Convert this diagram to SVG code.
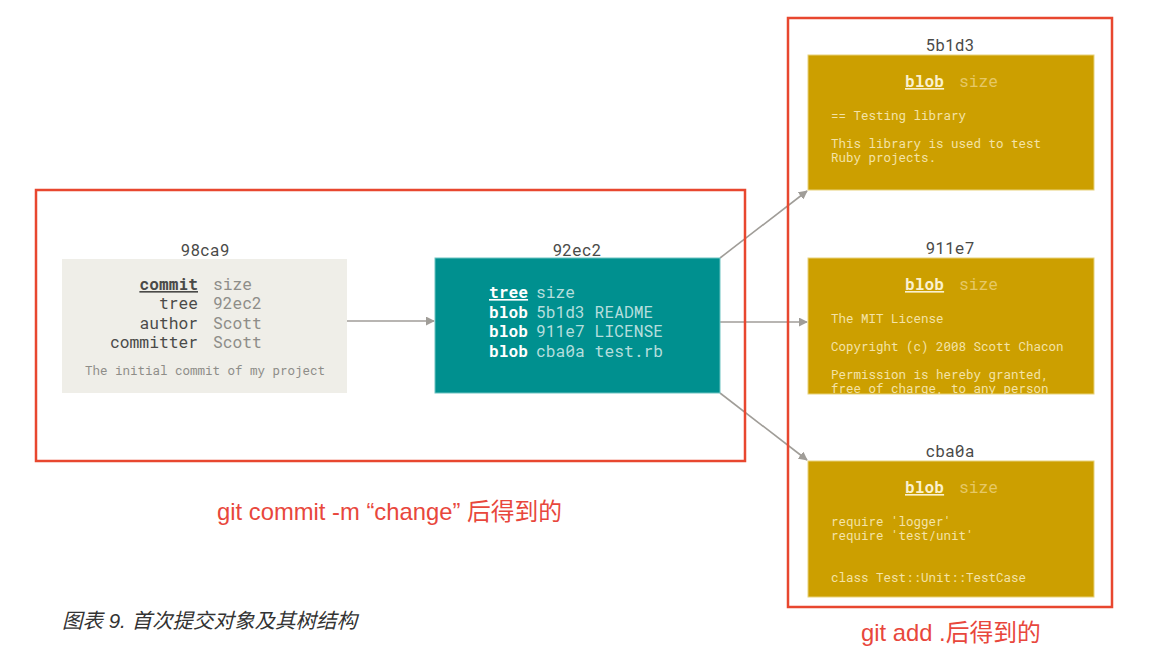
<svg xmlns="http://www.w3.org/2000/svg" width="1152" height="654" viewBox="0 0 1152 654">
<style>
.mono{font-family:"Roboto Mono","DejaVu Sans Mono","Liberation Mono",monospace}
.lbl{font-size:16.3px;fill:#4a4a48;text-anchor:middle}
.ck{font-size:16.3px;fill:#4a4a48;text-anchor:end}
.cv{font-size:16.3px;fill:#8e8d88}
.msg{font-size:12.5px;fill:#8e8d88}
.tk{font-size:16.3px;fill:#ffffff;font-weight:bold}
.tv{font-size:16.3px;fill:#b5dedd}
.bk{font-size:16.3px;fill:#fbf1cf;font-weight:bold;text-decoration:underline}
.bs{font-size:16.3px;fill:#e6c866}
.bt{font-size:12.5px;fill:#f4e3a8}
.red{fill:none;stroke:#e8472f;stroke-width:2.5}
.note{font-family:"Liberation Sans","Noto Sans CJK SC",sans-serif;font-size:23.8px;fill:#e8473c}
.edge{stroke:#a09d98;stroke-width:1.6;fill:none;marker-end:url(#ah)}
</style>
<defs>
<marker id="ah" viewBox="0 0 10 10" refX="9" refY="5" markerWidth="9" markerHeight="9" markerUnits="userSpaceOnUse" orient="auto">
<path d="M0,0 L10,5 L0,10 z" fill="#a09d98"/>
</marker>
<clipPath id="c1"><rect x="808" y="55" width="286" height="135"/></clipPath>
<clipPath id="c2"><rect x="808" y="258" width="286" height="136"/></clipPath>
<clipPath id="c3"><rect x="808" y="461" width="286" height="136"/></clipPath>
</defs>
<rect width="1152" height="654" fill="#ffffff"/>

<g id="connectors">
<line class="edge" x1="347" y1="321" x2="434" y2="321"/>
<line class="edge" x1="720" y1="258" x2="807" y2="191"/>
<line class="edge" x1="720" y1="322" x2="807" y2="322"/>
<line class="edge" x1="720" y1="393" x2="807" y2="460"/>
</g>

<g id="commit-98ca9" class="mono">
<text class="lbl" x="205" y="256">98ca9</text>
<rect x="62" y="259" width="285" height="134" fill="#efeee8"/>
<text class="ck" x="198" y="290" style="font-weight:bold;text-decoration:underline">commit</text>
<text class="cv" x="213" y="290">size</text>
<text class="ck" x="198" y="309">tree</text>
<text class="cv" x="213" y="309">92ec2</text>
<text class="ck" x="198" y="329">author</text>
<text class="cv" x="213" y="329">Scott</text>
<text class="ck" x="198" y="348">committer</text>
<text class="cv" x="213" y="348">Scott</text>
<text class="msg" x="205" y="375" text-anchor="middle">The initial commit of my project</text>
</g>

<g id="tree-92ec2" class="mono">
<text class="lbl" x="577" y="256">92ec2</text>
<rect x="435" y="258" width="285" height="135" fill="#00908f" stroke="#6cc3c1" stroke-width="1"/>
<text class="tk" x="489" y="298" style="text-decoration:underline">tree</text>
<text class="tv" x="536" y="298">size</text>
<text class="tk" x="489" y="318">blob</text>
<text class="tv" x="536" y="318">5b1d3 README</text>
<text class="tk" x="489" y="337">blob</text>
<text class="tv" x="536" y="337">911e7 LICENSE</text>
<text class="tk" x="489" y="357">blob</text>
<text class="tv" x="536" y="357">cba0a test.rb</text>
</g>

<g id="blob-5b1d3" class="mono">
<text class="lbl" x="950" y="51">5b1d3</text>
<rect x="808" y="55" width="286" height="135" fill="#cc9f00" stroke="#e8d27a" stroke-width="1"/>
<g clip-path="url(#c1)">
<text class="bk" x="905" y="87">blob</text>
<text class="bs" x="959" y="87">size</text>
<text class="bt" x="831" y="120">== Testing library</text>
<text class="bt" x="831" y="148">This library is used to test</text>
<text class="bt" x="831" y="162">Ruby projects.</text>
</g>
</g>

<g id="blob-911e7" class="mono">
<text class="lbl" x="950" y="254">911e7</text>
<rect x="808" y="258" width="286" height="136" fill="#cc9f00" stroke="#e8d27a" stroke-width="1"/>
<g clip-path="url(#c2)">
<text class="bk" x="905" y="290">blob</text>
<text class="bs" x="959" y="290">size</text>
<text class="bt" x="831" y="323">The MIT License</text>
<text class="bt" x="831" y="351">Copyright (c) 2008 Scott Chacon</text>
<text class="bt" x="831" y="379">Permission is hereby granted,</text>
<text class="bt" x="831" y="393">free of charge, to any person</text>
</g>
</g>

<g id="blob-cba0a" class="mono">
<text class="lbl" x="950" y="457">cba0a</text>
<rect x="808" y="461" width="286" height="136" fill="#cc9f00" stroke="#e8d27a" stroke-width="1"/>
<g clip-path="url(#c3)">
<text class="bk" x="905" y="493">blob</text>
<text class="bs" x="959" y="493">size</text>
<text class="bt" x="831" y="526">require 'logger'</text>
<text class="bt" x="831" y="540">require 'test/unit'</text>
<text class="bt" x="831" y="582">class Test::Unit::TestCase</text>
</g>
</g>

<g id="frames">
<rect class="red" x="36" y="190" width="709" height="271"/>
<rect class="red" x="788" y="18" width="324" height="589"/>
</g>

<g id="notes">
<text class="note" x="217" y="520">git commit -m “change” 后得到的</text>
<text class="note" x="861" y="641">git add .后得到的</text>
<text x="62" y="628" font-family="'Liberation Sans','Noto Sans CJK SC',sans-serif" font-size="20.5px" font-style="italic" fill="#333333">图表 9. 首次提交对象及其树结构</text>
</g>
</svg>
